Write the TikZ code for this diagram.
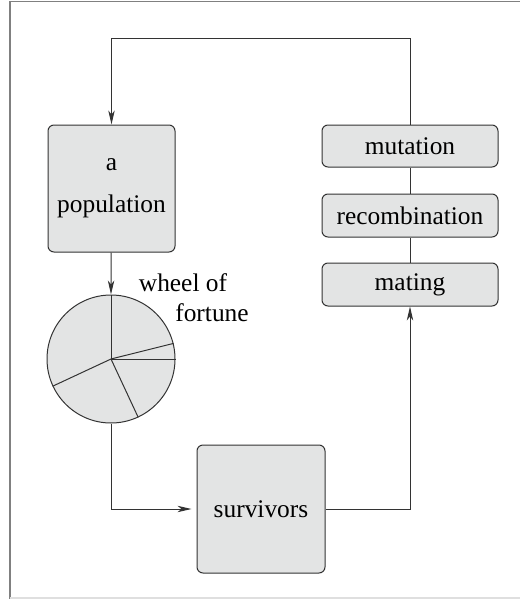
\documentclass[tikz,border=0pt]{standalone}
\usepackage{fontspec}
\setmainfont{Liberation Serif}
\usetikzlibrary{arrows.meta}
\definecolor{boxgray}{HTML}{E3E4E4}
\definecolor{linegray}{HTML}{333333}
\begin{document}
\begin{tikzpicture}[x=0.5pt,y=-0.5pt,line width=0.5pt,draw=linegray,
  font=\fontsize{12.7}{21}\selectfont,
  stagebox/.style={draw=linegray,fill=boxgray,rounded corners=3pt,inner sep=0pt,align=center},
  tip/.style={-{Stealth[length=7pt,width=3.2pt,inset=2pt]}}]
  \useasboundingbox (0,0) rectangle (520,599);
  % frame edges
  \draw[gray,line width=0.8pt] (10,599) -- (10,1.5) -- (520,1.5);
  \draw[gray!25,line width=0.8pt] (10,598) -- (520,598);
  % population box
  \node[stagebox,minimum width=63.5pt,minimum height=63.5pt] (pop) at (111.5,188.5) {a\\population};
  % operator boxes on the right
  \node[stagebox,minimum width=88pt,minimum height=21pt] (mut) at (410,146) {mutation};
  \node[stagebox,minimum width=88pt,minimum height=21.5pt] (rec) at (410,215.5) {recombination};
  \node[stagebox,minimum width=88pt,minimum height=21.5pt] (mat) at (410,284.5) {mating};
  % survivors box
  \node[stagebox,minimum width=64pt,minimum height=64pt] (surv) at (261,509) {survivors};
  % wheel of fortune with its slices
  \node[circle,draw=linegray,fill=boxgray,minimum size=64pt,inner sep=0pt] (pie) at (111,359) {};
  \foreach \ang in {90,14,0,295,205}
    \draw (pie.center) -- (pie.\ang);
  \node (wheel) at (183,283) {wheel of};
  \node (fort) at (212,313) {fortune};
  % connectors
  \draw[tip] (pop) -- (pie.north);
  \draw[tip,shorten >=2.5pt] (pie.south) |- (surv.west);
  \draw[tip] (surv.east) -| (mat.south);
  \draw (mat) -- (rec) -- (mut);
  \coordinate (topright) at (410,39);
  \draw[tip] (mut.north) -- (topright) -| (pop.north);
\end{tikzpicture}
\end{document}
